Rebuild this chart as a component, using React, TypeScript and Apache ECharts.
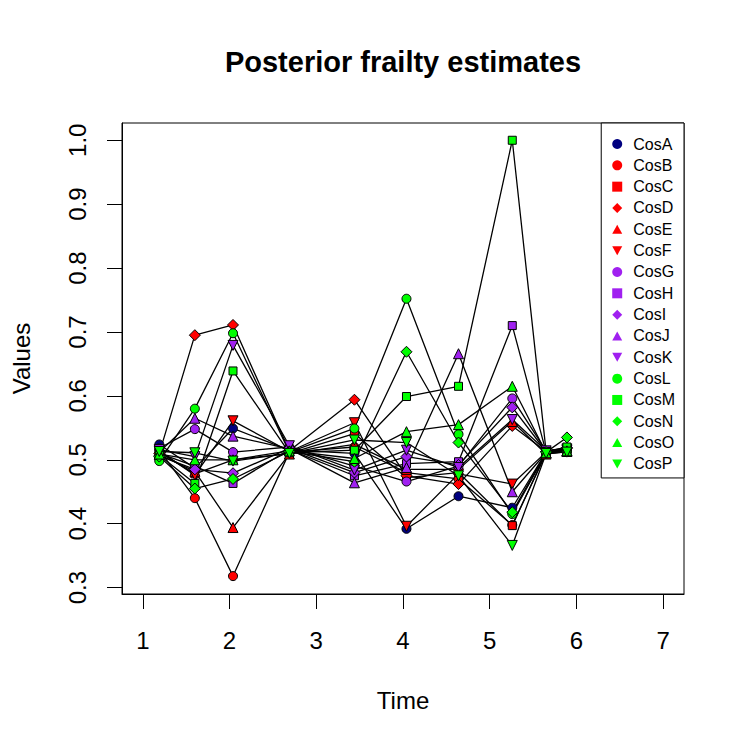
import React, { useEffect, useRef } from "react";
import * as echarts from "echarts";

const seriesNames = ["CosA", "CosB", "CosC", "CosD", "CosE", "CosF", "CosG", "CosH", "CosI", "CosJ", "CosK", "CosL", "CosM", "CosN", "CosO", "CosP"];
const times = [1.19, 1.6, 2.04, 2.69, 3.44, 4.04, 4.64, 5.26, 5.65, 5.89];

const cosA = [0.524, 0.487, 0.549, 0.515, 0.51, 0.392, 0.443, 0.425, 0.512, 0.515];
const cosB = [0.515, 0.44, 0.318, 0.512, 0.52, 0.48, 0.47, 0.398, 0.51, 0.514];
const cosC = [0.512, 0.478, 0.5, 0.51, 0.541, 0.472, 0.48, 0.397, 0.511, 0.516];
const cosD = [0.51, 0.695, 0.711, 0.514, 0.594, 0.475, 0.462, 0.553, 0.513, 0.518];
const cosE = [0.508, 0.482, 0.394, 0.509, 0.524, 0.485, 0.485, 0.56, 0.509, 0.513];
const cosF = [0.514, 0.476, 0.561, 0.513, 0.558, 0.396, 0.478, 0.462, 0.512, 0.515];
const cosG = [0.518, 0.548, 0.512, 0.52, 0.49, 0.466, 0.49, 0.596, 0.514, 0.517];
const cosH = [0.51, 0.49, 0.463, 0.516, 0.475, 0.494, 0.497, 0.71, 0.512, 0.516];
const cosI = [0.506, 0.485, 0.479, 0.518, 0.48, 0.505, 0.492, 0.582, 0.513, 0.519];
const cosJ = [0.512, 0.565, 0.537, 0.517, 0.464, 0.488, 0.666, 0.45, 0.511, 0.514];
const cosK = [0.516, 0.505, 0.679, 0.522, 0.484, 0.515, 0.488, 0.563, 0.514, 0.517];
const cosL = [0.498, 0.58, 0.698, 0.512, 0.549, 0.752, 0.54, 0.415, 0.51, 0.513];
const cosM = [0.507, 0.463, 0.639, 0.511, 0.515, 0.599, 0.615, 1.0, 0.513, 0.52];
const cosN = [0.505, 0.455, 0.47, 0.513, 0.497, 0.669, 0.527, 0.418, 0.512, 0.535];
const cosO = [0.509, 0.5, 0.5, 0.514, 0.502, 0.544, 0.555, 0.615, 0.511, 0.514];
const cosP = [0.513, 0.511, 0.498, 0.51, 0.531, 0.527, 0.475, 0.366, 0.51, 0.512];

const seriesValues = [cosA, cosB, cosC, cosD, cosE, cosF, cosG, cosH, cosI, cosJ, cosK, cosL, cosM, cosN, cosO, cosP];

const xTicks = [1, 2, 3, 4, 5, 6, 7];
const yTicks = [0.3, 0.4, 0.5, 0.6, 0.7, 0.8, 0.9, 1.0];

const seriesColors = [
  "#000080",
  "#FF0000", "#FF0000", "#FF0000", "#FF0000", "#FF0000",
  "#A020F0", "#A020F0", "#A020F0", "#A020F0", "#A020F0",
  "#00FF00", "#00FF00", "#00FF00", "#00FF00", "#00FF00",
];
const seriesShapes = [
  "circle",
  "circle", "square", "diamond", "up", "down",
  "circle", "square", "diamond", "up", "down",
  "circle", "square", "diamond", "up", "down",
];

const FONT = "'Liberation Sans', Arial, Helvetica, sans-serif";

function symbolFor(shape: string) {
  switch (shape) {
    case "circle": return { symbol: "circle", size: 9, rotate: 0 };
    case "square": return { symbol: "rect", size: 8, rotate: 0 };
    case "diamond": return { symbol: "diamond", size: 11, rotate: 0 };
    case "up": return { symbol: "triangle", size: 10, rotate: 0 };
    default: return { symbol: "triangle", size: 10, rotate: 180 };
  }
}

function legendIcon(shape: string) {
  switch (shape) {
    case "circle": return "path://M5,1A4,4,0,1,1,4.99,1Z";
    case "square": return "path://M1,1L9,1L9,9L1,9Z";
    case "diamond": return "path://M5,0L10,5L5,10L0,5Z";
    case "up": return "path://M5,0L10,9L0,9Z";
    default: return "path://M0,1L10,1L5,10Z";
  }
}

export default function App() {
  const ref = useRef<HTMLDivElement>(null);
  useEffect(() => {
    document.body.style.margin = "0";
    if (!ref.current) return;
    const chart = echarts.init(ref.current, null, { renderer: "svg" });

    const lineSeries = seriesNames.map((name, i) => ({
      type: "line",
      name: "line-" + name,
      data: times.map((t, j) => [t, seriesValues[i][j]]),
      symbol: "none",
      showSymbol: false,
      silent: true,
      lineStyle: { color: "#000", width: 1.3 },
      itemStyle: { color: "#000" },
      z: 2,
    }));

    const pointSeries = seriesNames.map((name, i) => {
      const s = symbolFor(seriesShapes[i]);
      return {
        type: "scatter",
        name,
        data: times.map((t, j) => [t, seriesValues[i][j]]),
        symbol: s.symbol,
        symbolSize: s.size,
        symbolRotate: s.rotate,
        itemStyle: { color: seriesColors[i], borderColor: "#000", borderWidth: 1, opacity: 1 },
        z: 3,
      };
    });

    chart.setOption({
      animation: false,
      backgroundColor: "#fff",
      textStyle: { fontFamily: FONT, color: "#000" },
      graphic: [
        {
          type: "text",
          x: 403,
          y: 62,
          style: {
            text: "Posterior frailty estimates",
            font: "bold 29px " + FONT,
            fill: "#000",
            textAlign: "center",
            textVerticalAlign: "middle",
          },
        },
      ],
      grid: {
        left: 122,
        top: 123,
        width: 562,
        height: 471,
        show: true,
        borderColor: "#000",
        borderWidth: 1,
        backgroundColor: "transparent",
        containLabel: false,
      },
      legend: {
        orient: "vertical",
        right: 63,
        top: 123,
        padding: [13, 9, 6, 11],
        itemWidth: 10,
        itemHeight: 10,
        itemGap: 5.33,
        symbolKeepAspect: true,
        backgroundColor: "#fff",
        borderColor: "#000",
        borderWidth: 1,
        borderRadius: 0,
        selectedMode: false,
        itemStyle: { borderWidth: 0 },
        textStyle: { fontSize: 16, lineHeight: 16, color: "#000", fontFamily: FONT, padding: [0, 0, 0, 6] },
        data: seriesNames.map((name, i) => ({
          name,
          icon: legendIcon(seriesShapes[i]),
          itemStyle: { color: seriesColors[i], borderWidth: 0 },
        })),
      },
      xAxis: {
        type: "value",
        min: 0.76,
        max: 7.24,
        name: "Time",
        nameLocation: "middle",
        nameGap: 94,
        nameTextStyle: { fontSize: 24, color: "#000", fontFamily: FONT },
        axisLine: { show: true, onZero: false, lineStyle: { color: "#000", width: 1 } },
        axisTick: { show: true, length: 15, customValues: xTicks, lineStyle: { color: "#000", width: 1 } },
        axisLabel: { customValues: xTicks, fontSize: 24, color: "#000", margin: 34, fontFamily: FONT },
        splitLine: { show: false },
      },
      yAxis: {
        type: "value",
        min: 0.29,
        max: 1.027,
        name: "Values",
        nameLocation: "middle",
        nameGap: 89,
        nameTextStyle: { fontSize: 24, color: "#000", fontFamily: FONT },
        axisLine: { show: true, onZero: false, lineStyle: { color: "#000", width: 1 } },
        axisTick: { show: true, length: 15, customValues: yTicks, lineStyle: { color: "#000", width: 1 } },
        axisLabel: {
          customValues: yTicks,
          fontSize: 24,
          color: "#000",
          margin: 33,
          rotate: 90,
          fontFamily: FONT,
          formatter: (v: number) => v.toFixed(1),
        },
        splitLine: { show: false },
      },
      series: [...lineSeries, ...pointSeries],
    });

    return () => chart.dispose();
  }, []);

  return <div ref={ref} style={{ width: 747, height: 747 }} />;
}
